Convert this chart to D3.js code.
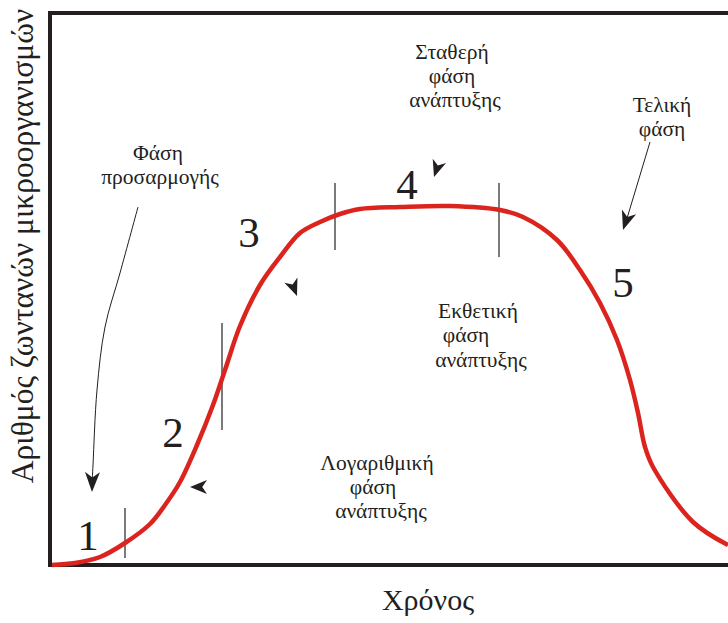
<!DOCTYPE html>
<html><head><meta charset="utf-8">
<script src="https://cdn.jsdelivr.net/npm/d3@7"></script>
<style>
html,body{margin:0;padding:0;background:#fff;}
svg{display:block;}
text{font-family:"Liberation Serif","Tinos","Times New Roman","DejaVu Serif",serif;fill:#231f20;}
</style></head>
<body>
<script>
// Growth curve: time vs number of living micro-organisms (arbitrary units)
const curveTime  = [2, 25, 50, 75, 100, 115, 130, 147, 163, 175, 190, 210, 230, 250, 270, 290, 310, 350, 400, 450, 473, 507, 530, 550, 567, 580, 588, 595, 603, 643, 678];
const curveCount = [0, 2, 8, 22, 41, 60, 83, 120, 160, 195, 239, 280, 308, 332, 343, 351, 356, 358, 359, 355, 348, 325, 295, 262, 225, 185, 152, 118, 98, 43, 20];

// phase boundaries (time) with tick extent
const boundaryTime = [75, 172, 285, 449];
const boundaryLow  = [7, 135, 315, 308];
const boundaryHigh = [57, 242, 382, 382];

// phase numbers
const phaseNums  = ["1", "2", "3", "4", "5"];
const phaseNumT  = [38, 123, 199, 357, 573];
const phaseNumV  = [15, 118, 318, 366, 268];

// phase names (lines)
const phaseLines = ["Σταθερή", "φάση", "ανάπτυξης",
                    "Τελική", "φάση",
                    "Φάση", "προσαρμογής",
                    "Εκθετική", "φάση", "ανάπτυξης",
                    "Λογαριθμική", "φάση", "ανάπτυξης"];
const phaseLineT = [402, 402, 405, 612, 612, 108, 110, 428, 416, 431, 327, 323, 331];
const phaseLineV = [506, 482, 458, 453, 429, 405, 381, 247, 223, 198, 95, 71, 47];

const xTitle = "Χρόνος";
const yTitle = "Αριθμός ζωντανών μικροοργανισμών";

const W = 728, H = 623;
const svg = d3.select("body").append("svg").attr("width", W).attr("height", H);

const x = d3.scaleLinear().domain([0, 680]).range([50, 730]);
const y = d3.scaleLinear().domain([0, 552]).range([565, 13]);

const ink = "#231f20";

// frame
svg.append("line").attr("x1", 50).attr("x2", 50).attr("y1", 11).attr("y2", 567)
  .attr("stroke", ink).attr("stroke-width", 4);
svg.append("line").attr("x1", 48).attr("x2", W).attr("y1", 13).attr("y2", 13)
  .attr("stroke", ink).attr("stroke-width", 4);
svg.append("line").attr("x1", 48).attr("x2", W).attr("y1", 565).attr("y2", 565)
  .attr("stroke", ink).attr("stroke-width", 4);

// boundary ticks
svg.selectAll("line.bd").data(boundaryTime).join("line").attr("class", "bd")
  .attr("x1", d => x(d)).attr("x2", d => x(d))
  .attr("y1", (d, i) => y(boundaryLow[i])).attr("y2", (d, i) => y(boundaryHigh[i]))
  .attr("stroke", ink).attr("stroke-width", 1.2);

// curve
const pts = curveTime.map((t, i) => [t, curveCount[i]]);
svg.append("path").datum(pts)
  .attr("d", d3.line().x(d => x(d[0])).y(d => y(d[1])).curve(d3.curveCatmullRom.alpha(0.5)))
  .attr("fill", "none").attr("stroke", "#dc241f").attr("stroke-width", 4.5)
  .attr("stroke-linejoin", "round");

// arrowhead helper: tip and back point in data units
function head(tip, back, len, wid) {
  const tx = x(tip[0]), ty = y(tip[1]), bx = x(back[0]), by = y(back[1]);
  const dx = tx - bx, dy = ty - by, L = Math.hypot(dx, dy);
  const ux = dx / L, uy = dy / L, px = -uy, py = ux;
  const b0x = tx - ux * len, b0y = ty - uy * len;
  const n = len * 0.28;
  const p = [
    [tx, ty],
    [b0x + px * wid / 2, b0y + py * wid / 2],
    [tx - ux * (len - n), ty - uy * (len - n)],
    [b0x - px * wid / 2, b0y - py * wid / 2]
  ];
  svg.append("path").attr("d", "M" + p.map(q => q.join(",")).join("L") + "Z").attr("fill", ink);
}

// small free arrowheads
const freeTip  = [[140, 78], [247, 269], [384, 388]];
const freeBack = [[157, 78], [242, 282], [389, 403]];
freeTip.forEach((t, i) => head(t, freeBack[i], 17, 14));

// lag phase arrow (curved)
const lagPath = [[88, 358], [70, 292], [55, 238], [47, 175], [43, 100], [42, 80]];
svg.append("path").datum(lagPath)
  .attr("d", d3.line().x(d => x(d[0])).y(d => y(d[1])).curve(d3.curveCatmullRom))
  .attr("fill", "none").attr("stroke", ink).attr("stroke-width", 1);
head([42, 73], [42.5, 95], 20, 15);

// death phase arrow (straight)
const deathPath = [[600, 423], [575, 340]];
svg.append("path").datum(deathPath)
  .attr("d", d3.line().x(d => x(d[0])).y(d => y(d[1])))
  .attr("fill", "none").attr("stroke", ink).attr("stroke-width", 1);
head([573, 335], [579, 353], 19, 15);

// phase numbers
svg.selectAll("text.num").data(phaseNums).join("text").attr("class", "num")
  .attr("x", (d, i) => x(phaseNumT[i])).attr("y", (d, i) => y(phaseNumV[i]))
  .attr("text-anchor", "middle").attr("font-size", 43).text(d => d);

// phase names
svg.selectAll("text.lbl").data(phaseLines).join("text").attr("class", "lbl")
  .attr("x", (d, i) => x(phaseLineT[i])).attr("y", (d, i) => y(phaseLineV[i]))
  .attr("text-anchor", "middle").attr("font-size", 21.5).text(d => d);

// axis titles
svg.append("text").attr("x", 428).attr("y", 610).attr("text-anchor", "middle")
  .attr("font-size", 30).text(xTitle);
svg.append("text").attr("transform", "translate(33,246) rotate(-90)")
  .attr("text-anchor", "middle").attr("font-size", 31.5).text(yTitle);
</script>
</body></html>
